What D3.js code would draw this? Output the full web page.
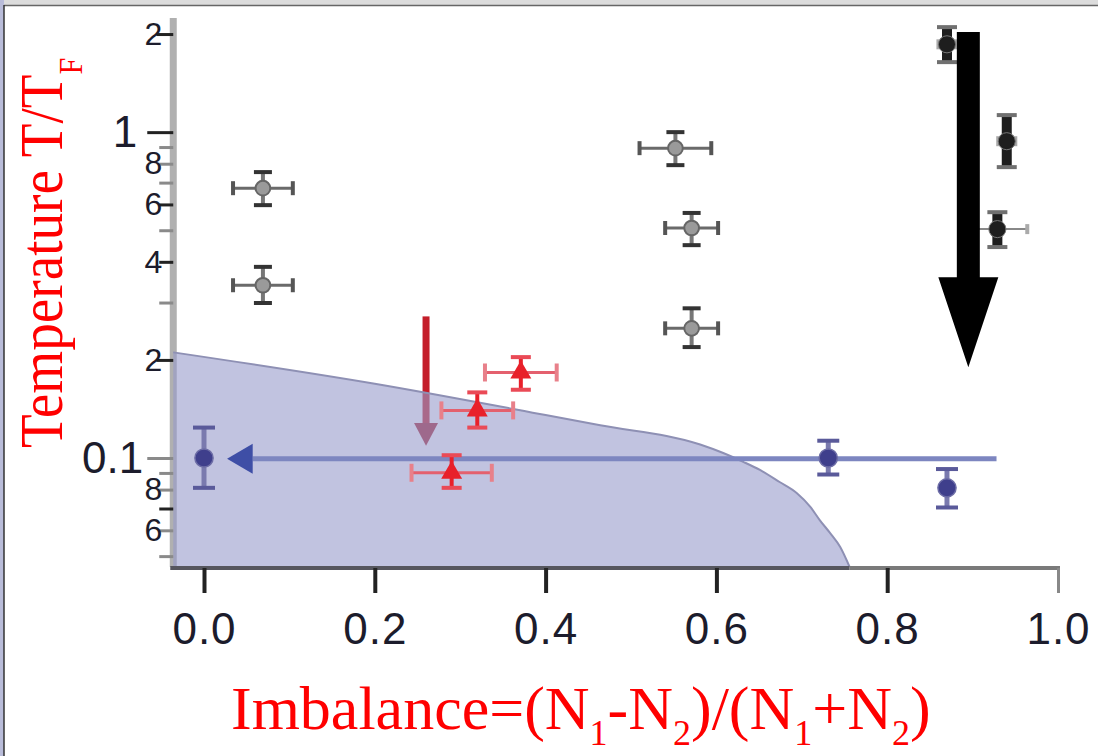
<!DOCTYPE html>
<meta charset="utf-8">

<!-- Load d3.js -->
<script src="https://d3js.org/d3.v7.min.js"></script>

<style>
    body { margin: 0; background: #fff; }
</style>

<svg id="chart" width="1098" height="756"></svg>

<script>

    // ---- data ----

    // gray points, normal state
    const grayX = [0.069, 0.069, 0.552, 0.571, 0.571];
    const grayXErr = [0.035, 0.035, 0.042, 0.031, 0.031];
    const grayT = [0.673, 0.339, 0.893, 0.508, 0.250];
    const grayTLo = [0.597, 0.299, 0.792, 0.450, 0.219];
    const grayTHi = [0.754, 0.386, 1.000, 0.565, 0.288];

    // black points, high imbalance
    const blackX = [0.870, 0.940, 0.929];
    const blackXErr = [0.010, 0.010, 0.035];
    const blackT = [1.86, 0.938, 0.504];
    const blackTLo = [1.64, 0.781, 0.444];
    const blackTHi = [2.10, 1.128, 0.568];

    // red points
    const redX = [0.371, 0.320, 0.290];
    const redXErr = [0.042, 0.042, 0.047];
    const redT = [0.183, 0.140, 0.0901];
    const redTLo = [0.162, 0.124, 0.081];
    const redTHi = [0.204, 0.159, 0.102];

    // blue points
    const blueX = [0.000, 0.731, 0.870];
    const blueXErr = [0, 0, 0];
    const blueT = [0.100, 0.100, 0.0810];
    const blueTLo = [0.081, 0.089, 0.0705];
    const blueTHi = [0.124, 0.113, 0.0925];

    // superfluid region boundary
    const boundaryX = [-0.036, 0.2, 0.4, 0.464, 0.581, 0.608, 0.632, 0.651, 0.674, 0.694, 0.710, 0.721, 0.733, 0.745, 0.756];
    const boundaryT = [0.211, 0.169, 0.1355, 0.126, 0.110, 0.1036, 0.0972, 0.0919, 0.0844, 0.0781, 0.0708, 0.0645, 0.0589, 0.0533, 0.0463];

    // ticks
    const xTickValues = [0, 0.2, 0.4, 0.6, 0.8, 1.0];
    const yTickValues = [2, 1, 0.9, 0.8, 0.7, 0.6, 0.5, 0.4, 0.3, 0.2, 0.1, 0.09, 0.08, 0.07, 0.06, 0.05];
    const yTickLabels = ["2", "1", "", "8", "", "6", "", "4", "", "2", "0.1", "", "8", "", "6", ""];
    const yDarkTicks = [2, 1, 0.6, 0.4, 0.2, 0.07];

    // arrows (x, T from, T neck, T tip)
    const bigArrow = [0.895, 2.03, 0.359, 0.19];
    const redArrow = [0.260, 0.272, 0.128, 0.109];
    const blueArrow = [0.928, 0.057, 0.027, 0.0995]; // x from, x neck, x tip, T

    // axis extents
    const xMin = -0.036, xMax = 1.0;
    const tMin = 0.0463, tMax = 2.24;

    // ---- setup ----
    const svg = d3.select("#chart");

    const x = d3.scaleLinear().domain([0, 1]).range([204, 1058]);
    const y = d3.scaleLog().domain([tMin, tMax]).range([567, 18]);

    // window frame (top bar, left bar)
    svg.append("rect").attr("x", 0).attr("y", 0).attr("width", 1098).attr("height", 5).attr("fill", "#dcdcdc");
    svg.append("line").attr("x1", 4).attr("x2", 1098).attr("y1", 5.5).attr("y2", 5.5).attr("stroke", "#666").attr("stroke-width", 1.5);
    svg.append("rect").attr("x", 0).attr("y", 0).attr("width", 4).attr("height", 756).attr("fill", "#b9bcd9");
    svg.append("line").attr("x1", 4).attr("x2", 4).attr("y1", 5).attr("y2", 756).attr("stroke", "#333").attr("stroke-width", 1.5);

    // y axis line (drawn under the shaded region)
    svg.append("line")
        .attr("x1", x(xMin)).attr("x2", x(xMin))
        .attr("y1", y(tMax)).attr("y2", y(tMin))
        .attr("stroke", "#b0b0b0")
        .attr("stroke-width", 7);

    // red arrow (under the shaded region)
    const rax = x(redArrow[0]);
    svg.append("line")
        .attr("x1", rax).attr("x2", rax)
        .attr("y1", y(redArrow[1])).attr("y2", y(redArrow[2]) + 2)
        .attr("stroke", "#c41e2a").attr("stroke-width", 7);
    svg.append("path")
        .attr("d", d3.line()([[rax - 12, y(redArrow[2])], [rax + 12, y(redArrow[2])], [rax, y(redArrow[3])]]) + "Z")
        .attr("fill", "#a8202e");

    // shaded region
    const boundary = boundaryX.map((v, i) => [v, boundaryT[i]]);
    svg.append("path")
        .datum(boundary)
        .attr("d", d3.area().x(d => x(d[0])).y0(y(tMin)).y1(d => y(d[1])).curve(d3.curveMonotoneX))
        .attr("fill", "#989bcb")
        .attr("opacity", 0.6);
    svg.append("path")
        .datum(boundary)
        .attr("d", d3.line().x(d => x(d[0])).y(d => y(d[1])).curve(d3.curveMonotoneX))
        .attr("fill", "none")
        .attr("stroke", "#8e90b4")
        .attr("stroke-width", 2);

    // x axis line
    svg.append("line")
        .attr("x1", x(xMin) - 3).attr("x2", x(0.756))
        .attr("y1", 568).attr("y2", 568)
        .attr("stroke", "#56565e").attr("stroke-width", 4);
    svg.append("line")
        .attr("x1", x(0.756)).attr("x2", x(xMax) + 2)
        .attr("y1", 568).attr("y2", 568)
        .attr("stroke", "#7a7a7a").attr("stroke-width", 4);

    // x axis ticks + labels
    const xAxis = svg.append("g")
        .attr("transform", "translate(0,568)")
        .call(d3.axisBottom(x).tickValues(xTickValues).tickFormat(d3.format(".1f")).tickSize(25).tickPadding(20));
    xAxis.select(".domain").remove();
    xAxis.selectAll(".tick line")
        .attr("stroke", d => d === 1 ? "#888" : "#222")
        .attr("stroke-width", d => d === 1 ? 3 : 4);
    xAxis.selectAll(".tick text")
        .attr("fill", "#1c1c2c")
        .style("font-family", "'Liberation Sans', Arial, sans-serif")
        .style("font-size", "44px")
        .style("letter-spacing", "1px");

    // y axis ticks + labels
    const yAxis = svg.append("g")
        .attr("transform", `translate(${x(xMin)},0)`)
        .call(d3.axisLeft(y).tickValues(yTickValues).tickFormat((d, i) => yTickLabels[i]).tickSize(14).tickPadding(11));
    yAxis.select(".domain").remove();
    yAxis.selectAll(".tick line")
        .attr("stroke", d => yDarkTicks.includes(d) ? "#222" : "#8a8a8a")
        .attr("stroke-width", 3)
        .attr("x2", d => (d === 1 || d === 0.1) ? -26 : (d === 2 || d === 0.2 ? -17 : -14));
    yAxis.selectAll(".tick text")
        .attr("fill", "#1c1c2c")
        .style("font-family", "'Liberation Sans', Arial, sans-serif")
        .style("font-size", d => (d === 1 || d === 0.1) ? "44px" : "32px")
        .attr("x", d => d === 1 ? -36 : (d === 0.1 ? -30 : -11));

    // blue arrow along T/TF = 0.1
    const bay = y(blueArrow[3]);
    svg.append("line")
        .attr("x1", x(blueArrow[0])).attr("x2", x(blueArrow[1]))
        .attr("y1", bay).attr("y2", bay)
        .attr("stroke", "#7d86c0").attr("stroke-width", 5);
    svg.append("path")
        .attr("d", d3.line()([[x(blueArrow[1]), bay - 15], [x(blueArrow[1]), bay + 15], [x(blueArrow[2]), bay]]) + "Z")
        .attr("fill", "#3e4ea6");

    // points with error bars
    function drawSeries(xs, xe, ts, lo, hi, st) {
        const data = xs.map((v, i) => ({ x: v, xe: xe[i], t: ts[i], lo: lo[i], hi: hi[i] }));
        const g = svg.append("g");

        // horizontal bars + caps
        const hd = data.filter(d => d.xe > 0);
        g.selectAll(".hbar").data(hd).join("line")
            .attr("x1", d => x(d.x - d.xe)).attr("x2", d => x(d.x + d.xe))
            .attr("y1", d => y(d.t)).attr("y2", d => y(d.t))
            .attr("stroke", st.hbar).attr("stroke-width", st.barW);
        g.selectAll(".hcapL").data(hd).join("line")
            .attr("x1", d => x(d.x - d.xe)).attr("x2", d => x(d.x - d.xe))
            .attr("y1", d => y(d.t) - st.hcap).attr("y2", d => y(d.t) + st.hcap)
            .attr("stroke", st.hcapC).attr("stroke-width", 4);
        g.selectAll(".hcapR").data(hd).join("line")
            .attr("x1", d => x(d.x + d.xe)).attr("x2", d => x(d.x + d.xe))
            .attr("y1", d => y(d.t) - st.hcap).attr("y2", d => y(d.t) + st.hcap)
            .attr("stroke", st.hcapC).attr("stroke-width", 4);

        // vertical bars + caps
        g.selectAll(".vbar").data(data).join("line")
            .attr("x1", d => x(d.x)).attr("x2", d => x(d.x))
            .attr("y1", d => y(d.lo)).attr("y2", d => y(d.hi))
            .attr("stroke", st.vbar).attr("stroke-width", st.vbarW);
        g.selectAll(".vcapT").data(data).join("line")
            .attr("x1", d => x(d.x) - st.vcap).attr("x2", d => x(d.x) + st.vcap)
            .attr("y1", d => y(d.hi)).attr("y2", d => y(d.hi))
            .attr("stroke", st.vcapC).attr("stroke-width", 4);
        g.selectAll(".vcapB").data(data).join("line")
            .attr("x1", d => x(d.x) - st.vcap).attr("x2", d => x(d.x) + st.vcap)
            .attr("y1", d => y(d.lo)).attr("y2", d => y(d.lo))
            .attr("stroke", st.vcapC).attr("stroke-width", 4);

        // markers
        g.selectAll(".mark").data(data).join("path")
            .attr("transform", d => `translate(${x(d.x)},${y(d.t)})`)
            .attr("d", d3.symbol().type(st.symbol).size(st.size))
            .attr("fill", st.fill)
            .attr("stroke", st.stroke)
            .attr("stroke-width", st.strokeW);
    }

    drawSeries(grayX, grayXErr, grayT, grayTLo, grayTHi, {
        hbar: "#6a6a6a", barW: 3, hcap: 7, hcapC: "#555",
        vbar: "#777", vbarW: 4, vcap: 9, vcapC: "#333",
        symbol: d3.symbolCircle, size: 170, fill: "#9a9a9a", stroke: "#666", strokeW: 2
    });
    drawSeries(blackX, blackXErr, blackT, blackTLo, blackTHi, {
        hbar: "#888", barW: 2, hcap: 5, hcapC: "#aaa",
        vbar: "#1e1e1e", vbarW: 10, vcap: 10, vcapC: "#707070",
        symbol: d3.symbolCircle, size: 230, fill: "#1e1e1e", stroke: "#777", strokeW: 1
    });
    drawSeries(redX, redXErr, redT, redTLo, redTHi, {
        hbar: "#e4606e", barW: 3, hcap: 9, hcapC: "#e8808a",
        vbar: "#e8202a", vbarW: 4, vcap: 10, vcapC: "#ea4a56",
        symbol: d3.symbolTriangle, size: 190, fill: "#e8202a", stroke: "none", strokeW: 0
    });
    drawSeries(blueX, blueXErr, blueT, blueTLo, blueTHi, {
        hbar: "#7070a8", barW: 3, hcap: 8, hcapC: "#7070a8",
        vbar: "#7a7aae", vbarW: 5, vcap: 11, vcapC: "#5a5a9a",
        symbol: d3.symbolCircle, size: 260, fill: "#3f3f8c", stroke: "#6d6da6", strokeW: 1.5
    });

    // big black arrow
    const bx = x(bigArrow[0]);
    svg.append("path")
        .attr("d", d3.line()([
            [bx - 11.5, y(bigArrow[1])], [bx + 11.5, y(bigArrow[1])],
            [bx + 11.5, y(bigArrow[2])], [bx + 30, y(bigArrow[2])],
            [bx, y(bigArrow[3])],
            [bx - 30, y(bigArrow[2])], [bx - 11.5, y(bigArrow[2])]
        ]) + "Z")
        .attr("fill", "#000");

    // y label
    const yLabel = svg.append("text")
        .attr("transform", "translate(62,448) rotate(-90) scale(0.89,1)")
        .attr("fill", "#ff0000")
        .style("font-family", "'Liberation Serif', 'Times New Roman', serif")
        .style("font-size", "62px");
    yLabel.append("tspan").text("Temperature T/T");
    yLabel.append("tspan").attr("dy", 20).style("font-size", "34px").text("F");

    // x label
    const xLabel = svg.append("text")
        .attr("x", 231).attr("y", 729)
        .attr("fill", "#ff0000")
        .style("font-family", "'Liberation Serif', 'Times New Roman', serif")
        .style("font-size", "62px");
    const xParts = [["Imbalance=(N", 0], ["1", 1], ["-N", 0], ["2", 1], [")/(N", 0], ["1", 1], ["+N", 0], ["2", 1], [")", 0]];
    let prevSub = 0;
    xParts.forEach(p => {
        const t = xLabel.append("tspan").text(p[0]);
        if (p[1] !== prevSub) t.attr("dy", p[1] ? 16 : -16);
        if (p[1]) t.style("font-size", "36px");
        prevSub = p[1];
    });

</script>
